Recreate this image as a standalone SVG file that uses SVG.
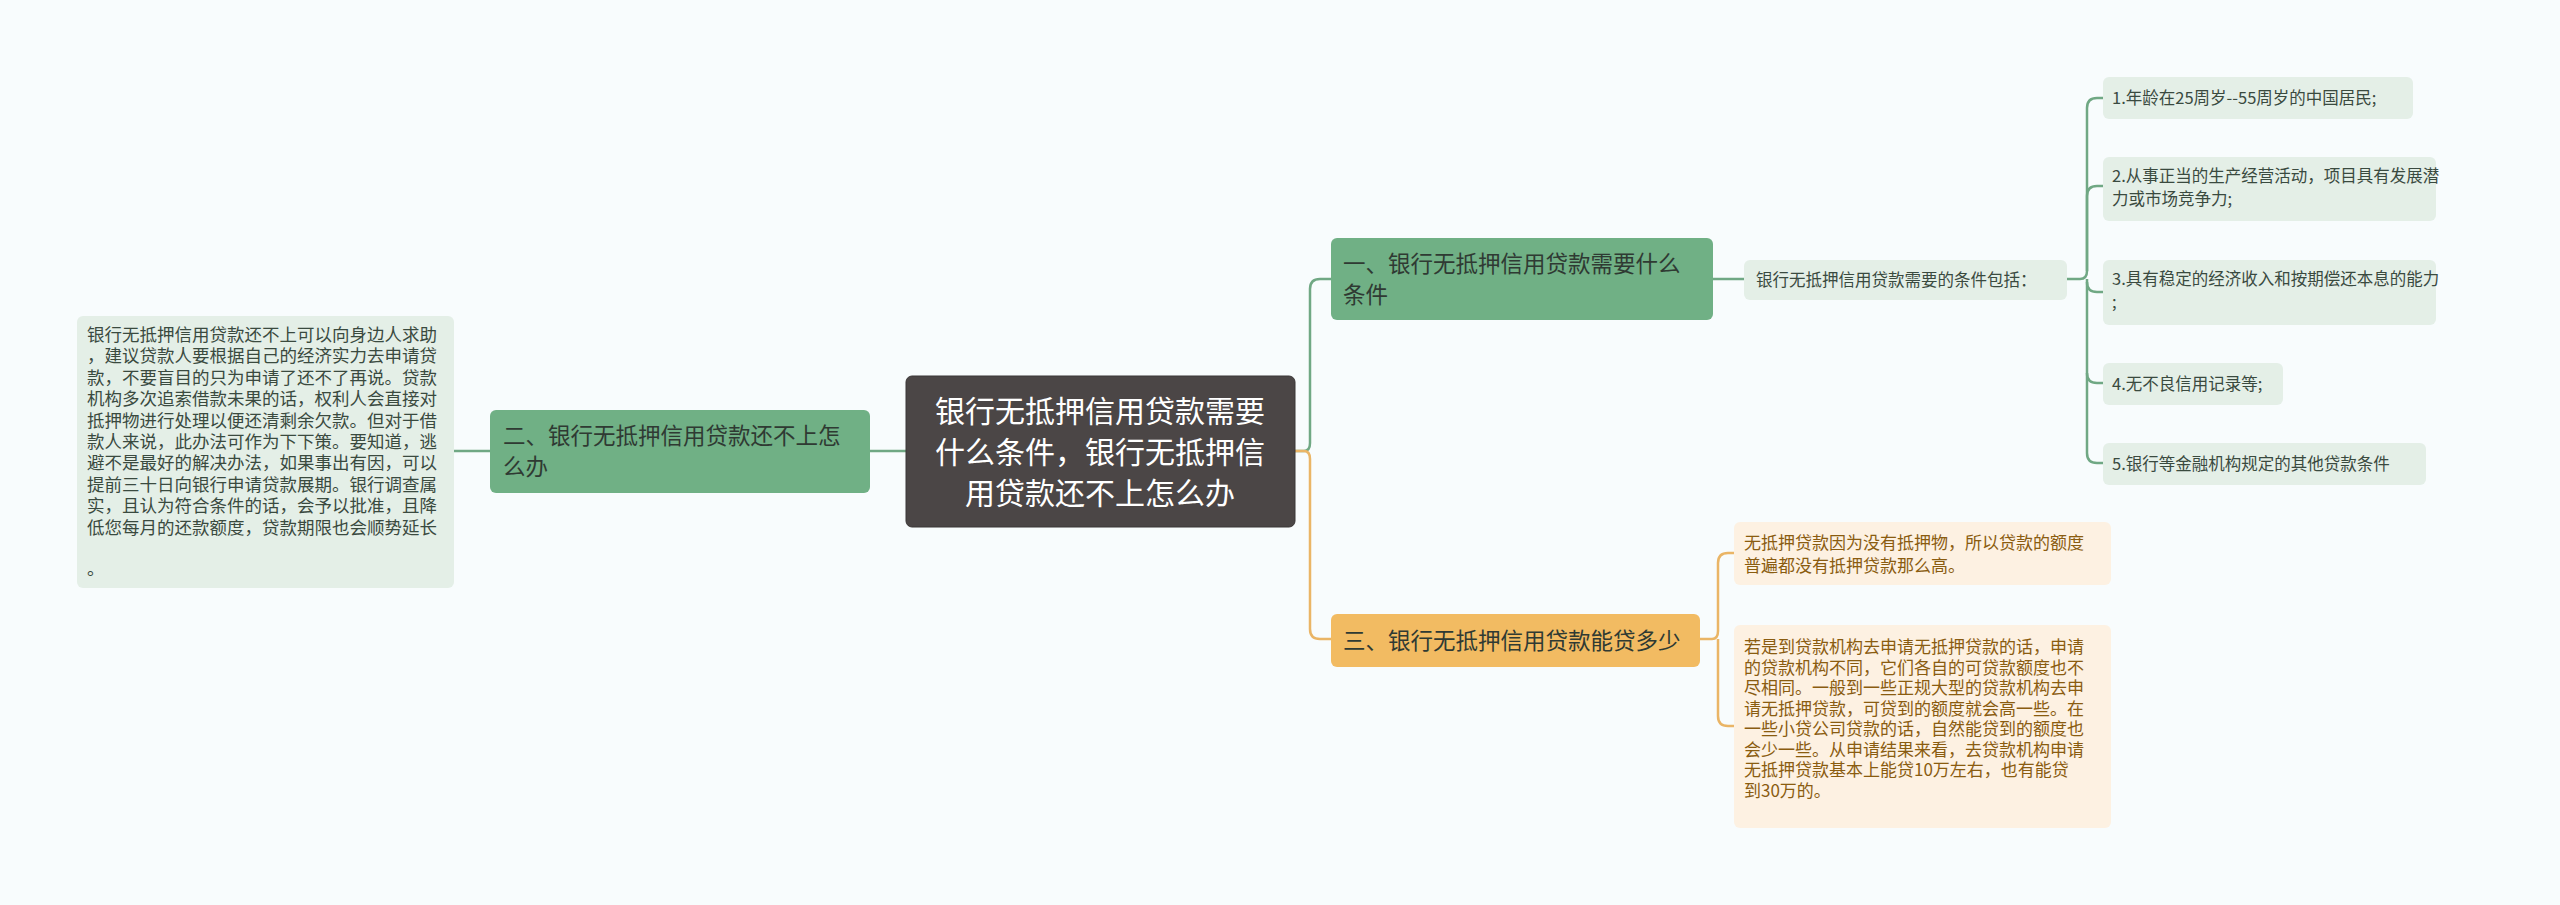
<svg xmlns="http://www.w3.org/2000/svg" width="2560" height="905" viewBox="0 0 2560 905">
<style>
text{font-family:"Noto Sans CJK SC","Liberation Sans",sans-serif;}
.root{fill:#4b4646;stroke:#3a3636;stroke-width:1}
.g{fill:#70b085}
.lg{fill:#e4efe7}
.o{fill:#f2bb62}
.lo{fill:#fdf1e2}
.tw{fill:#ffffff;font-size:30px}
.td{fill:#2f3a33;font-size:22.5px}
.ts{fill:#3a4a3f;font-size:16.5px}
.tl{fill:#3a4a3f;font-size:17.5px}
.to{fill:#8a5c10;font-size:17px}
.cg{fill:none;stroke:#70a884;stroke-width:2.5}
.co{fill:none;stroke:#eab566;stroke-width:2.5}
</style>
<rect width="2560" height="905" fill="#f8fcfd"/>
<g id="connectors">
<path class="cg" d="M1295 451 H1304 Q1310 451 1310 443 V289 Q1310 279 1320 279 H1331"/>
<path class="co" d="M1295 451 H1304 Q1310 451 1310 459 V629 Q1310 639 1320 639 H1331"/>
<path class="cg" d="M906 451 H870"/>
<path class="cg" d="M490 451 H454"/>
<path class="cg" d="M1713 279 H1744"/>
<path class="cg" d="M2067 279 H2080 Q2087 279 2087 271 V108 Q2087 98 2097 98 H2103"/>
<path class="cg" d="M2087 271 V196 Q2087 186 2097 186 H2103"/>
<path class="cg" d="M2087 279 V282 Q2087 292 2097 292 H2103"/>
<path class="cg" d="M2087 282 V373 Q2087 383 2097 383 H2103"/>
<path class="cg" d="M2087 373 V453 Q2087 463 2097 463 H2103"/>
<path class="co" d="M1700 639 H1712 Q1718 639 1718 631 V563 Q1718 553 1728 553 H1734"/>
<path class="co" d="M1718 639 V716 Q1718 726 1728 726 H1734"/>
</g>
<g id="root">
<rect class="root" x="906" y="376" width="389" height="151" rx="6"/>
<text class="tw" text-anchor="middle"><tspan x="1100" y="422">银行无抵押信用贷款需要</tspan><tspan x="1100" y="463">什么条件，银行无抵押信</tspan><tspan x="1100" y="504">用贷款还不上怎么办</tspan></text>
</g>
<g id="n2">
<rect class="g" x="490" y="410" width="380" height="83" rx="6"/>
<text class="td"><tspan x="503" y="444">二、银行无抵押信用贷款还不上怎</tspan><tspan x="503" y="475">么办</tspan></text>
</g>
<g id="n2a">
<rect class="lg" x="77" y="316" width="377" height="272" rx="6"/>
<text class="tl"><tspan x="87" y="341">银行无抵押信用贷款还不上可以向身边人求助</tspan><tspan x="87" y="362.4">，建议贷款人要根据自己的经济实力去申请贷</tspan><tspan x="87" y="383.8">款，不要盲目的只为申请了还不了再说。贷款</tspan><tspan x="87" y="405.2">机构多次追索借款未果的话，权利人会直接对</tspan><tspan x="87" y="426.6">抵押物进行处理以便还清剩余欠款。但对于借</tspan><tspan x="87" y="448">款人来说，此办法可作为下下策。要知道，逃</tspan><tspan x="87" y="469.4">避不是最好的解决办法，如果事出有因，可以</tspan><tspan x="87" y="490.8">提前三十日向银行申请贷款展期。银行调查属</tspan><tspan x="87" y="512.2">实，且认为符合条件的话，会予以批准，且降</tspan><tspan x="87" y="533.6">低您每月的还款额度，贷款期限也会顺势延长</tspan><tspan x="87" y="575">。</tspan></text>
</g>
<g id="n1">
<rect class="g" x="1331" y="238" width="382" height="82" rx="6"/>
<text class="td"><tspan x="1343" y="272">一、银行无抵押信用贷款需要什么</tspan><tspan x="1343" y="303">条件</tspan></text>
</g>
<g id="n1a">
<rect class="lg" x="1744" y="260" width="323" height="40" rx="6"/>
<text class="ts" x="1756" y="286">银行无抵押信用贷款需要的条件包括：</text>
</g>
<g id="i1">
<rect class="lg" x="2103" y="77" width="310" height="42" rx="6"/>
<text class="ts" x="2112" y="104">1.年龄在25周岁--55周岁的中国居民;</text>
</g>
<g id="i2">
<rect class="lg" x="2103" y="157" width="333" height="64" rx="6"/>
<text class="ts"><tspan x="2112" y="182">2.从事正当的生产经营活动，项目具有发展潜</tspan><tspan x="2112" y="205">力或市场竞争力;</tspan></text>
</g>
<g id="i3">
<rect class="lg" x="2103" y="260" width="333" height="65" rx="6"/>
<text class="ts"><tspan x="2112" y="285">3.具有稳定的经济收入和按期偿还本息的能力</tspan><tspan x="2112" y="308">;</tspan></text>
</g>
<g id="i4">
<rect class="lg" x="2103" y="363" width="180" height="42" rx="6"/>
<text class="ts" x="2112" y="390">4.无不良信用记录等;</text>
</g>
<g id="i5">
<rect class="lg" x="2103" y="443" width="323" height="42" rx="6"/>
<text class="ts" x="2112" y="470">5.银行等金融机构规定的其他贷款条件</text>
</g>
<g id="n3">
<rect class="o" x="1331" y="614" width="369" height="53" rx="6"/>
<text class="td" x="1343" y="649">三、银行无抵押信用贷款能贷多少</text>
</g>
<g id="n3a">
<rect class="lo" x="1734" y="522" width="377" height="63" rx="6"/>
<text class="to"><tspan x="1744" y="549">无抵押贷款因为没有抵押物，所以贷款的额度</tspan><tspan x="1744" y="572">普遍都没有抵押贷款那么高。</tspan></text>
</g>
<g id="n3b">
<rect class="lo" x="1734" y="625" width="377" height="203" rx="6"/>
<text class="to"><tspan x="1744" y="653">若是到贷款机构去申请无抵押贷款的话，申请</tspan><tspan x="1744" y="673.5">的贷款机构不同，它们各自的可贷款额度也不</tspan><tspan x="1744" y="694">尽相同。一般到一些正规大型的贷款机构去申</tspan><tspan x="1744" y="714.5">请无抵押贷款，可贷到的额度就会高一些。在</tspan><tspan x="1744" y="735">一些小贷公司贷款的话，自然能贷到的额度也</tspan><tspan x="1744" y="755.5">会少一些。从申请结果来看，去贷款机构申请</tspan><tspan x="1744" y="776">无抵押贷款基本上能贷10万左右，也有能贷</tspan><tspan x="1744" y="796.5">到30万的。</tspan></text>
</g>
</svg>
